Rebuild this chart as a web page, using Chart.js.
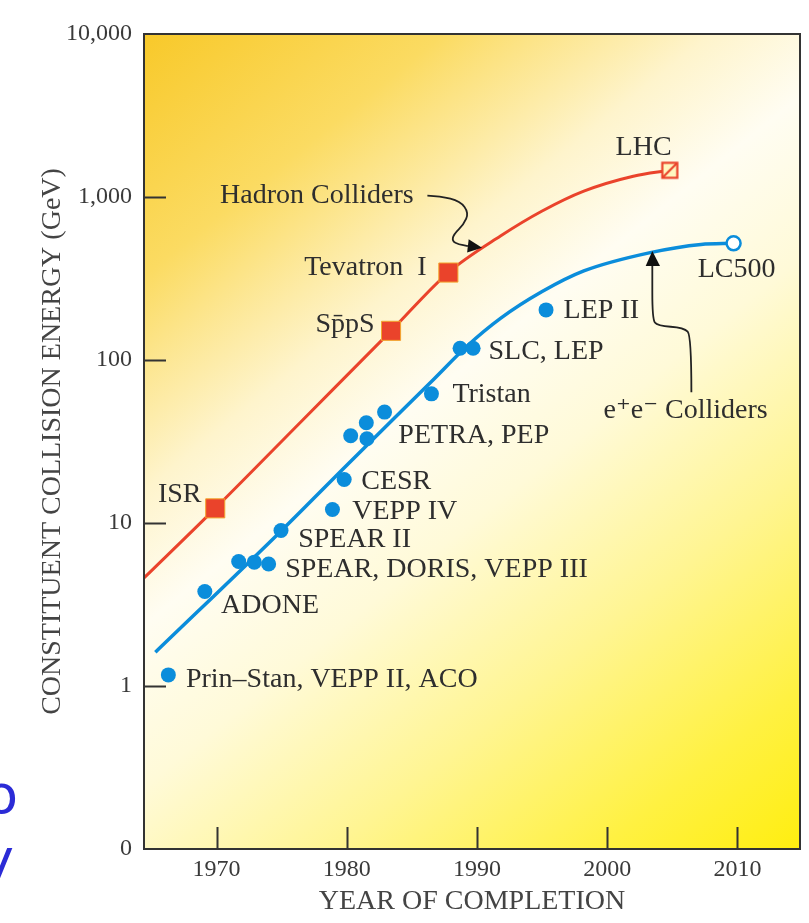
<!DOCTYPE html>
<html lang="en">
<head>
  <meta charset="UTF-8">
  <title>Constituent collision energy vs. year of completion</title>
  <script src="https://cdn.jsdelivr.net/npm/chart.js"></script>
  <style>
    html, body { margin: 0; padding: 0; background: #fff; }
  </style>
</head>
<body>
<canvas id="myChart" width="809" height="923"></canvas>
<script>
// e+e- colliders (filled dots)
const eeYears  = [1966.3, 1969.1, 1971.7, 1972.9, 1974.0, 1974.95, 1978.9, 1979.8, 1980.3, 1981.5, 1981.55, 1982.9, 1986.5, 1988.7, 1989.7, 1995.3]
const eeEnergy = [1.17, 3.8, 5.8, 5.75, 5.6, 9.0, 12.1, 18.5, 34.3, 41.2, 32.9, 47.9, 62, 118, 118, 203]

// hadron colliders (filled squares)
const hadronYears  = [1969.9, 1983.4, 1987.8]
const hadronEnergy = [12.3, 151, 344]

// future machines
const lhcYears = [2004.8]
const lhcEnergy = [1459]
const lc500Years = [2009.7]
const lc500Energy = [520]

// trend curves
const hadronFitYears  = [1964.43, 1969.9, 1976.6, 1983.4, 1987.8, 1991.8, 1995, 1998.2, 2002, 2004.8]
const hadronFitEnergy = [4.6, 12.3, 42.7, 151, 344, 576, 820, 1086, 1341, 1459]
const eeFitYears  = [1965.3, 1975, 1980, 1986.7, 1989.2, 1991.8, 1995, 1998.2, 2003.3, 2007.2, 2009.7]
const eeFitEnergy = [1.61, 9.0, 22.6, 76.5, 121, 180, 263, 352, 456, 512, 520]

// axes
const xMin = 1964.43, xMax = 2014.8
const xTickValues = [1970, 1980, 1990, 2000, 2010]
const xTickLabels = ['1970', '1980', '1990', '2000', '2010']
const yTickValues = [0.1, 1, 10, 100, 1000, 10000]
const yTickLabels = ['0', '1', '10', '100', '1,000', '10,000']

// text notes, anchored at (year, energy) = left edge / middle of the text
const notes = [
  { text: 'Prin–Stan, VEPP II, ACO', x: 1967.65, y: 1.10 },
  { text: 'ADONE', x: 1970.35, y: 3.09 },
  { text: 'SPEAR, DORIS, VEPP III', x: 1975.27, y: 5.19 },
  { text: 'SPEAR II', x: 1976.27, y: 7.93 },
  { text: 'VEPP IV', x: 1980.42, y: 11.8 },
  { text: 'CESR', x: 1981.11, y: 17.9 },
  { text: 'PETRA, PEP', x: 1983.96, y: 34.3 },
  { text: 'Tristan', x: 1988.11, y: 61 },
  { text: 'SLC, LEP', x: 1990.88, y: 112 },
  { text: 'LEP II', x: 1996.65, y: 202 },
  { text: 'LC500', x: 2006.95, y: 360 },
  { text: 'LHC', x: 2000.64, y: 2009 },
  { text: 'e⁺e⁻ Colliders', x: 1999.72, y: 48.8 },
  { text: 'Hadron Colliders', x: 1970.27, y: 1021 },
  { text: 'Tevatron  I', x: 1976.73, y: 370 },
  { text: 'Sp̄pS', x: 1977.6, y: 164 },
  { text: 'ISR', x: 1965.5, y: 14.9 }
]

// pointer arrows: path and head, in (year, energy)
const arrows = [
  {
    path: [[1986.19, 1021], [1987.19, 1012], [1988.72, 942], [1989.36, 800], [1988.98, 679],
           [1988.21, 590], [1988.09, 537], [1988.59, 512], [1989.3, 500]],
    head: [[1990.39, 489], [1989.36, 550], [1989.24, 456]]
  },
  {
    path: [[2006.46, 63.4], [2006.46, 141], [2005.89, 158], [2003.85, 162], [2003.46, 178], [2003.46, 377]],
    head: [[2003.46, 467], [2002.95, 377], [2004.05, 377]]
  }
]

const RED = '#ea432b'
const BLUE = '#0b8ddb'
const INK = '#2e2e2e'
const SERIF = "'Liberation Serif', 'DejaVu Serif', serif"

const pts = (xs, ys) => xs.map((x, i) => ({ x: x, y: ys[i] }))

// LHC marker: open square with a diagonal stroke
const lhcIcon = document.createElement('canvas')
lhcIcon.width = 20
lhcIcon.height = 20
const ic = lhcIcon.getContext('2d')
ic.fillStyle = '#fff7c0'
ic.fillRect(2, 2, 16, 16)
ic.strokeStyle = RED
ic.lineWidth = 2.2
ic.strokeRect(2.5, 2.5, 15, 15)
ic.beginPath()
ic.moveTo(3, 17)
ic.lineTo(17, 3)
ic.stroke()

const backgroundPlugin = {
  id: 'background',
  beforeDraw(chart) {
    const { ctx, chartArea: a } = chart
    ctx.save()
    ctx.fillStyle = '#ffffff'
    ctx.fillRect(0, 0, chart.width, chart.height)
    const g = ctx.createLinearGradient(a.left, a.top, a.right, a.bottom)
    g.addColorStop(0, '#f8c92a')
    g.addColorStop(0.18, '#fbdb62')
    g.addColorStop(0.34, '#fef4cc')
    g.addColorStop(0.44, '#fffdf2')
    g.addColorStop(0.56, '#fffad8')
    g.addColorStop(0.72, '#fff592')
    g.addColorStop(0.88, '#fff142')
    g.addColorStop(1, '#ffee10')
    ctx.fillStyle = g
    ctx.fillRect(a.left, a.top, a.right - a.left, a.bottom - a.top)
    ctx.restore()
  }
}

const notesPlugin = {
  id: 'notes',
  afterDatasetsDraw(chart) {
    const { ctx, scales: { x, y } } = chart
    const px = (p) => [x.getPixelForValue(p[0]), y.getPixelForValue(p[1])]
    ctx.save()
    // arrows
    ctx.strokeStyle = '#222'
    ctx.fillStyle = '#111'
    ctx.lineWidth = 1.8
    arrows.forEach(a => {
      const p = a.path.map(px)
      ctx.beginPath()
      ctx.moveTo(p[0][0], p[0][1])
      for (let i = 1; i < p.length - 1; i++) {
        const mx = (p[i][0] + p[i + 1][0]) / 2
        const my = (p[i][1] + p[i + 1][1]) / 2
        ctx.quadraticCurveTo(p[i][0], p[i][1], mx, my)
      }
      ctx.lineTo(p[p.length - 1][0], p[p.length - 1][1])
      ctx.stroke()
      const h = a.head.map(px)
      ctx.beginPath()
      ctx.moveTo(h[0][0], h[0][1])
      ctx.lineTo(h[1][0], h[1][1])
      ctx.lineTo(h[2][0], h[2][1])
      ctx.closePath()
      ctx.fill()
    })
    // text
    ctx.fillStyle = INK
    ctx.font = '28px ' + SERIF
    ctx.textAlign = 'left'
    ctx.textBaseline = 'middle'
    notes.forEach(n => {
      ctx.fillText(n.text, x.getPixelForValue(n.x), y.getPixelForValue(n.y))
    })
    ctx.restore()
  }
}

const framePlugin = {
  id: 'frame',
  afterDraw(chart) {
    const { ctx, chartArea: a, scales: { x, y } } = chart
    ctx.save()
    ctx.strokeStyle = '#333'
    ctx.lineWidth = 2
    ctx.strokeRect(a.left, a.top, a.right - a.left, a.bottom - a.top)
    ctx.beginPath()
    yTickValues.slice(1, -1).forEach(v => {
      const py = Math.round(y.getPixelForValue(v)) + 0.5
      ctx.moveTo(a.left, py)
      ctx.lineTo(a.left + 22, py)
    })
    xTickValues.forEach(v => {
      const pxv = Math.round(x.getPixelForValue(v)) + 0.5
      ctx.moveTo(pxv, a.bottom)
      ctx.lineTo(pxv, a.bottom - 22)
    })
    ctx.stroke()
    // cut-off slide text at the left edge
    ctx.fillStyle = '#2b2bd6'
    ctx.font = '54px "DejaVu Sans", sans-serif'
    ctx.textAlign = 'right'
    ctx.textBaseline = 'alphabetic'
    ctx.fillText('o', 18, 813)
    ctx.fillText('y', 14, 877)
    ctx.restore()
  }
}

const config = {
  type: 'scatter',
  data: {
    datasets: [
      {
        label: 'LC500', data: pts(lc500Years, lc500Energy), order: 1,
        pointStyle: 'circle', pointRadius: 7, pointHoverRadius: 7,
        backgroundColor: '#ffffff', borderColor: BLUE, borderWidth: 2.5
      },
      {
        label: 'LHC', data: pts(lhcYears, lhcEnergy), order: 1,
        pointStyle: lhcIcon
      },
      {
        label: 'e+e- colliders', data: pts(eeYears, eeEnergy), order: 1,
        pointStyle: 'circle', pointRadius: 7.5, pointHoverRadius: 7.5,
        backgroundColor: BLUE, borderWidth: 0
      },
      {
        label: 'Hadron colliders', data: pts(hadronYears, hadronEnergy), order: 1,
        pointStyle: 'rect', pointRadius: 13.5, pointHoverRadius: 13.5,
        backgroundColor: RED, borderColor: '#f3a52e', borderWidth: 1
      },
      {
        label: 'e+e- trend', type: 'line', data: pts(eeFitYears, eeFitEnergy), order: 2,
        borderColor: BLUE, borderWidth: 3.5, pointRadius: 0, fill: false,
        cubicInterpolationMode: 'monotone'
      },
      {
        label: 'Hadron trend', type: 'line', data: pts(hadronFitYears, hadronFitEnergy), order: 2,
        borderColor: RED, borderWidth: 3, pointRadius: 0, fill: false,
        cubicInterpolationMode: 'monotone'
      }
    ]
  },
  options: {
    responsive: false,
    animation: false,
    devicePixelRatio: 1,
    layout: { autoPadding: false, padding: { top: 34, right: 9, left: 0, bottom: 0 } },
    plugins: { legend: { display: false }, tooltip: { enabled: false } },
    scales: {
      x: {
        type: 'linear', min: xMin, max: xMax,
        afterBuildTicks: s => { s.ticks = xTickValues.map(v => ({ value: v })) },
        afterFit: s => { s.height = 74 },
        grid: { display: false, drawTicks: false },
        border: { display: false },
        ticks: {
          callback: (v, i) => xTickLabels[i], padding: 6, maxRotation: 0, autoSkip: false,
          color: '#3a3a3a', font: { family: SERIF, size: 24 }
        },
        title: {
          display: true, text: 'YEAR OF COMPLETION', color: '#444',
          font: { family: SERIF, size: 28 }, padding: { top: 0, bottom: 5 }
        }
      },
      y: {
        type: 'logarithmic', min: 0.1, max: 10000,
        afterBuildTicks: s => { s.ticks = yTickValues.map(v => ({ value: v })) },
        afterFit: s => { s.width = 144 },
        grid: { display: false, drawTicks: false },
        border: { display: false },
        ticks: {
          callback: (v, i) => yTickLabels[i], padding: 12, autoSkip: false,
          color: '#3a3a3a', font: { family: SERIF, size: 24 }
        },
        title: {
          display: true, text: 'CONSTITUENT COLLISION ENERGY (GeV)', color: '#444',
          font: { family: SERIF, size: 28 }, padding: { top: 36, bottom: 0 }
        }
      }
    }
  },
  plugins: [backgroundPlugin, notesPlugin, framePlugin]
}

new Chart(document.getElementById('myChart'), config)
</script>
</body>
</html>
